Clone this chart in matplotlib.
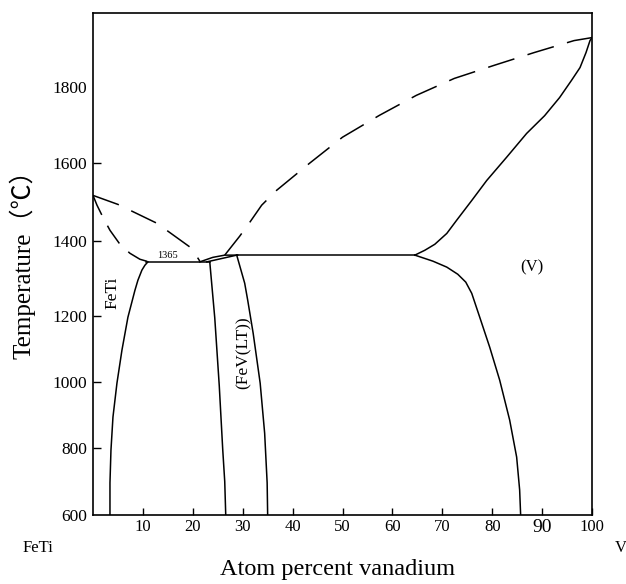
# ==========================================
# Fe-Ti-V section: FeTi - V phase diagram
# ==========================================

import numpy as np
import matplotlib
matplotlib.use("Agg")
import matplotlib.pyplot as plt

plt.rcParams["font.family"] = ["Liberation Serif", "Noto Sans CJK SC"]

# ===========================
# Data (atom % V, temperature in C)
# ===========================

# liquidus from FeTi side (dashed)
liq_left_x = [0, 5.0, 12.8, 19.8, 21.4]
liq_left_t = [1517, 1494, 1446, 1381, 1347]

# solidus from FeTi side (dashed)
sol_left_x = [0, 0.8, 2.0, 3.4, 5.4, 7.4, 9.4, 11.2]
sol_left_t = [1517, 1492, 1461, 1428, 1392, 1368, 1352, 1345]

# eutectic line
eut_x = [10.6, 23.4]
eut_t = [1345, 1345]

# FeTi solvus
feti_x = [11.0, 10.4, 9.8, 9.0, 8.4, 7.0, 5.8, 4.8, 4.0, 3.6, 3.4, 3.4]
feti_t = [1345, 1336, 1323, 1296, 1269, 1197, 1097, 997, 894, 794, 696, 600]

# small lens between eutectic and peritectic
lens_up_x = [21.4, 24.0, 26.4, 29.0]
lens_up_t = [1345, 1357, 1363, 1363]
lens_lo_x = [22.8, 28.8]
lens_lo_t = [1345, 1363]

# FeV(LT) boundaries
fev_left_x = [23.4, 24.4, 25.3, 26.0, 26.4, 26.6]
fev_left_t = [1345, 1195, 990, 795, 700, 600]
fev_right_x = [28.8, 30.4, 31.0, 32.1, 33.5, 34.4, 34.9, 35.0]
fev_right_t = [1363, 1288, 1243, 1148, 997, 845, 696, 600]

# peritectic line
per_x = [28.8, 64.5]
per_t = [1363, 1363]

# liquidus to V (dashed)
liq_right_x = [26.4, 29.4, 31.4, 33.8, 36.8, 43.4, 50.0, 57.4, 64.8,
               72.4, 80.4, 88.4, 96.4, 100]
liq_right_t = [1363, 1413, 1448, 1492, 1530, 1599, 1668, 1726, 1779,
               1824, 1859, 1893, 1925, 1933]

# solidus to V
sol_right_x = [64.5, 66.5, 68.5, 70.9, 72.9, 75.9, 78.9, 82.9, 86.9,
               90.5, 93.5, 95.9, 97.6, 98.8, 99.6, 100]
sol_right_t = [1363, 1376, 1392, 1420, 1454, 1504, 1555, 1615, 1678,
               1725, 1773, 1819, 1853, 1893, 1925, 1933]

# (V) solvus
v_solvus_x = [64.5, 68.1, 70.9, 73.1, 74.7, 75.9, 77.5, 79.5, 81.5,
              83.5, 84.9, 85.5, 85.7]
v_solvus_t = [1363, 1347, 1331, 1312, 1291, 1261, 1197, 1106, 1006,
              885, 773, 675, 600]

x_ticks = [10, 20, 30, 40, 50, 60, 70, 80, 90, 100]
y_ticks = [600, 800, 1000, 1200, 1400, 1600, 1800]

# the original temperature axis is not evenly spaced
scale_t = [600, 800, 1000, 1200, 1400, 1600, 1800, 2000]
scale_h = [0, 67, 133, 199, 274, 352.5, 428, 503]


def forward(t):
    return np.interp(t, scale_t, scale_h)


def inverse(h):
    return np.interp(h, scale_h, scale_t)


# ===========================
# Figure
# ===========================

fig = plt.figure(figsize=(6.26, 5.84), dpi=100)
ax = fig.add_axes([93 / 626, 1 - 515 / 584, 499 / 626, 502.5 / 584])

ax.set_yscale("function", functions=(forward, inverse))
ax.set_xlim(0, 100)
ax.set_ylim(600, 2000)

lw = 1.1
dash = (0, (18, 9))

ax.plot(liq_left_x, liq_left_t, color="black", lw=lw, linestyle=dash)
ax.plot(sol_left_x, sol_left_t, color="black", lw=lw, linestyle=(0, (14, 8)))
ax.plot(liq_right_x, liq_right_t, color="black", lw=lw, linestyle=dash)

for xs, ts in [
    (eut_x, eut_t),
    (feti_x, feti_t),
    (lens_up_x, lens_up_t),
    (lens_lo_x, lens_lo_t),
    (fev_left_x, fev_left_t),
    (fev_right_x, fev_right_t),
    (per_x, per_t),
    (sol_right_x, sol_right_t),
    (v_solvus_x, v_solvus_t),
]:
    ax.plot(xs, ts, color="black", lw=lw, solid_joinstyle="round")

# ===========================
# Labels inside the plot
# ===========================

ax.text(15.0, 1349, "1365", fontsize=7.5, ha="center", va="bottom")
ax.text(3.9, 1262, "FeTi", fontsize=12.5, rotation=90, ha="center", va="center")
ax.text(30.1, 1088, "(FeV(LT))", fontsize=12.5, rotation=90, ha="center", va="center")
ax.text(88.0, 1331, "(V)", fontsize=12, ha="center", va="center")

# ===========================
# Axes styling
# ===========================

for side in ["left", "right", "top", "bottom"]:
    ax.spines[side].set_linewidth(1.2)

ax.set_xticks(x_ticks)
ax.set_xticklabels([str(v) for v in x_ticks])
ax.set_yticks(y_ticks)
ax.set_yticklabels([str(v) for v in y_ticks])
ax.minorticks_off()

ax.tick_params(axis="x", direction="in", length=5, width=1.0, pad=3, labelsize=12)
ax.tick_params(axis="y", direction="in", length=6, width=1.0, pad=4, labelsize=12.5)

# no tick marks at 600 and 1800 in the original
ax.yaxis.get_major_ticks()[0].tick1line.set_visible(False)
ax.yaxis.get_major_ticks()[-1].tick1line.set_visible(False)

# the 90 label is printed a bit larger
ax.get_xticklabels()[8].set_fontsize(14)

fig.text(38 / 626, 1 - 548 / 584, "FeTi", fontsize=12, ha="center", va="center")
fig.text(621 / 626, 1 - 548 / 584, "V", fontsize=12, ha="center", va="center")
fig.text(338 / 626, 1 - 570 / 584, "Atom percent vanadium", fontsize=17.5,
         ha="center", va="center")
fig.text(22 / 626, 1 - 258 / 584, "Temperature（℃）", fontsize=18, rotation=90,
         ha="center", va="center")

fig.savefig("out.png", dpi=100)
